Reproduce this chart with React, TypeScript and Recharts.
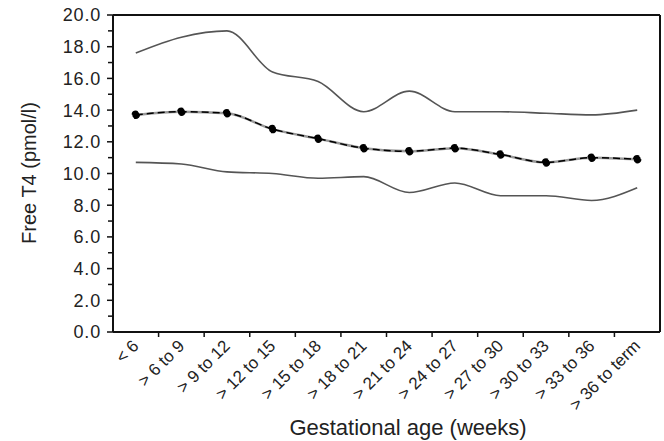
import { ComposedChart, Line, XAxis, YAxis } from "recharts";

const categories = [
  "< 6",
  "> 6 to 9",
  "> 9 to 12",
  "> 12 to 15",
  "> 15 to 18",
  "> 18 to 21",
  "> 21 to 24",
  "> 24 to 27",
  "> 27 to 30",
  "> 30 to 33",
  "> 33 to 36",
  "> 36 to term",
];
const upper = [17.6, 18.6, 19.0, 16.4, 15.8, 13.9, 15.2, 13.9, 13.9, 13.8, 13.7, 14.0];
const mean = [13.7, 13.9, 13.8, 12.8, 12.2, 11.6, 11.4, 11.6, 11.2, 10.7, 11.0, 10.9];
const lower = [10.7, 10.6, 10.1, 10.0, 9.7, 9.8, 8.8, 9.4, 8.6, 8.6, 8.3, 9.1];
const yTicks = [0, 1, 2, 3, 4, 5, 6, 7, 8, 9, 10, 11, 12, 13, 14, 15, 16, 17, 18, 19, 20];

const data = categories.map((cat, i) => ({
  cat,
  upper: upper[i],
  mean: mean[i],
  lower: lower[i],
}));

const FONT = "'Liberation Sans', Arial, sans-serif";
const W = 664;
const H = 441;
const LEFT = 113;
const RIGHT = 3;
const BAND = (W - LEFT - RIGHT - 1) / categories.length;

function YTick(props: any) {
  const { x, y, payload } = props;
  const v = payload.value;
  const major = v % 2 === 0;
  return (
    <g>
      <line x1={x} x2={x - (major ? 6 : 5)} y1={y} y2={y} stroke="#111" strokeWidth={1.5} />
      {major && (
        <text
          x={x - 12}
          y={y}
          dy="0.36em"
          textAnchor="end"
          fontSize={18}
          letterSpacing={0.8}
          fontFamily={FONT}
          fill="#222"
        >
          {v.toFixed(1)}
        </text>
      )}
    </g>
  );
}

function XTick(props: any) {
  const { x, y, payload } = props;
  const idx = categories.indexOf(payload.value);
  return (
    <g>
      {idx < categories.length - 1 && (
        <line
          x1={x + BAND / 2}
          x2={x + BAND / 2}
          y1={y}
          y2={y + 5}
          stroke="#111"
          strokeWidth={1.5}
        />
      )}
      <text
        transform={`translate(${x + 4},${y + 15}) rotate(-45)`}
        textAnchor="end"
        fontSize={17}
        fontFamily={FONT}
        fill="#222"
      >
        {payload.value}
      </text>
    </g>
  );
}

function XTitle() {
  return (
    <text x={408} y={435} textAnchor="middle" fontSize={22} fontFamily={FONT} fill="#222">
      Gestational age (weeks)
    </text>
  );
}

function YTitle() {
  return (
    <text
      transform="translate(36,173) rotate(-90)"
      textAnchor="middle"
      fontSize={20}
      fontFamily={FONT}
      fill="#222"
    >
      Free T4 (pmol/l)
    </text>
  );
}

export default function App() {
  const axisLine = { stroke: "#111", strokeWidth: 2 };
  return (
    <div style={{ width: W, height: H, background: "#fff" }}>
      <style>{"body{margin:0}"}</style>
      <ComposedChart
        width={W}
        height={H}
        data={data}
        margin={{ top: 14, right: RIGHT, left: 0, bottom: 0 }}
      >
        <XAxis
          dataKey="cat"
          scale="band"
          height={109}
          interval={0}
          tickSize={0}
          tickMargin={0}
          tickLine={false}
          axisLine={axisLine}
          tick={<XTick />}
          label={<XTitle />}
        />
        <XAxis
          xAxisId="top"
          dataKey="cat"
          scale="band"
          orientation="top"
          height={1}
          tick={false}
          tickLine={false}
          axisLine={axisLine}
        />
        <YAxis
          domain={[0, 20]}
          ticks={yTicks}
          interval={0}
          width={LEFT}
          tickSize={0}
          tickMargin={0}
          tickLine={false}
          axisLine={axisLine}
          tick={<YTick />}
          label={<YTitle />}
        />
        <YAxis
          yAxisId="right"
          orientation="right"
          domain={[0, 20]}
          width={1}
          tick={false}
          tickLine={false}
          axisLine={axisLine}
        />
        <Line
          type="monotone"
          dataKey="upper"
          stroke="#555"
          strokeWidth={1.6}
          dot={false}
          isAnimationActive={false}
        />
        <Line
          type="monotone"
          dataKey="lower"
          stroke="#555"
          strokeWidth={1.6}
          dot={false}
          isAnimationActive={false}
        />
        <Line
          type="monotone"
          dataKey="mean"
          stroke="#999"
          strokeWidth={2.5}
          dot={false}
          isAnimationActive={false}
        />
        <Line
          type="monotone"
          dataKey="mean"
          stroke="#000"
          strokeWidth={1.5}
          strokeDasharray="7 4"
          dot={{ r: 3.5, fill: "#000", stroke: "#000" }}
          isAnimationActive={false}
        />
      </ComposedChart>
    </div>
  );
}
